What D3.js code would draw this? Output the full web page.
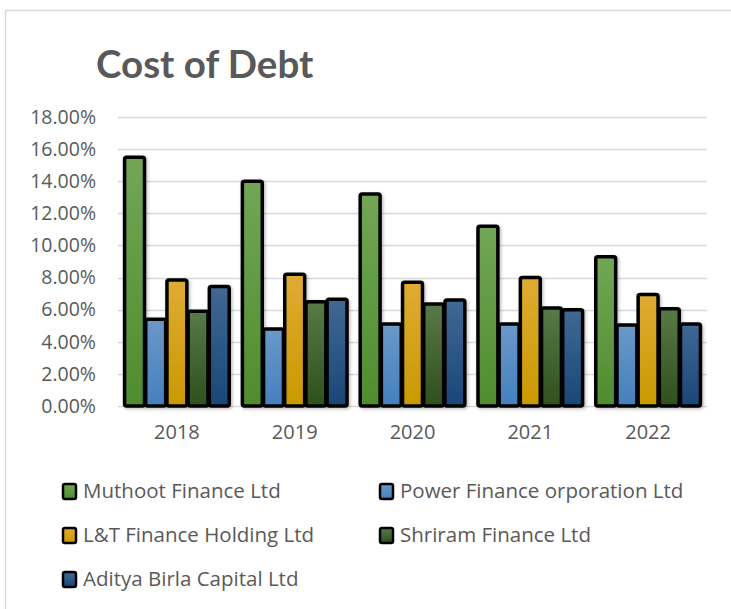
<!DOCTYPE html>
<html>
<head>
<meta charset="utf-8">
<script src="https://cdn.jsdelivr.net/npm/d3@7"></script>
<style>
  body { margin: 0; background: #fff; }
  svg { display: block; }
  text { font-family: "Open Sans", "Noto Sans", sans-serif; fill: #595959; }
</style>
</head>
<body>
<script>
// chart data
var years = ["2018", "2019", "2020", "2021", "2022"];
var companies = ["Muthoot Finance Ltd", "Power Finance orporation Ltd", "L&T Finance Holding Ltd",
                 "Shriram Finance Ltd", "Aditya Birla Capital Ltd"];
var muthoot = [15.5, 14.0, 13.2, 11.2, 9.3];
var powerFin = [5.4, 4.8, 5.1, 5.1, 5.05];
var ltFin = [7.85, 8.2, 7.7, 8.0, 6.95];
var shriram = [5.9, 6.5, 6.35, 6.1, 6.05];
var aditya = [7.45, 6.65, 6.6, 6.0, 5.1];
var yTicks = [0, 2, 4, 6, 8, 10, 12, 14, 16, 18];

var series = [muthoot, powerFin, ltFin, shriram, aditya];
// top / bottom gradient colours per series
var colors = [["#72a656", "#4f8c2e"], ["#6a98c8", "#4580bd"], ["#e0ab34", "#c99900"],
              ["#587a48", "#2f4f1c"], ["#416894", "#184777"]];

var width = 731, height = 609;
var svg = d3.select("body").append("svg")
    .attr("width", width)
    .attr("height", height);

var defs = svg.append("defs");
colors.forEach(function(c, i) {
    var g = defs.append("linearGradient")
        .attr("id", "grad" + i)
        .attr("x1", 0).attr("y1", 0).attr("x2", 0).attr("y2", 1);
    g.append("stop").attr("offset", "0%").attr("stop-color", c[0]);
    g.append("stop").attr("offset", "100%").attr("stop-color", c[1]);
});
var shadow = defs.append("filter").attr("id", "shadow")
    .attr("x", "-20%").attr("y", "-10%").attr("width", "150%").attr("height", "130%");
shadow.append("feDropShadow")
    .attr("dx", 1.5).attr("dy", 1.5).attr("stdDeviation", 1.5)
    .attr("flood-color", "#000").attr("flood-opacity", 0.25);

// chart area border (top and left visible)
svg.append("path")
    .attr("d", "M5.5,609 V10.5 H731")
    .attr("fill", "none")
    .attr("stroke", "#d9d9d9")
    .attr("stroke-width", 1.5);

// title
svg.append("text")
    .attr("x", 96)
    .attr("y", 78)
    .style("font-family", "Lato, 'Open Sans', sans-serif")
    .style("font-weight", "bold")
    .style("font-size", "38.5px")
    .text("Cost of Debt");

var x0 = d3.scaleBand()
    .domain(years)
    .range([118, 707])
    .paddingInner(0.09)
    .paddingOuter(0.045);

var x1 = d3.scaleBand()
    .domain(d3.range(series.length))
    .range([0, x0.bandwidth()])
    .padding(0.06);

var y = d3.scaleLinear()
    .domain([0, 18])
    .range([406, 117]);

// gridlines
svg.append("g")
    .selectAll("line")
    .data(yTicks)
    .enter()
    .append("line")
    .attr("x1", 118).attr("x2", 707)
    .attr("y1", function(d) { return Math.round(y(d)) + 0.5; })
    .attr("y2", function(d) { return Math.round(y(d)) + 0.5; })
    .attr("stroke", "#d9d9d9")
    .attr("stroke-width", 1.5);

// y axis labels
var yAxis = svg.append("g")
    .attr("transform", "translate(96,0)")
    .call(d3.axisLeft(y).tickValues(yTicks).tickSize(0).tickPadding(0)
        .tickFormat(function(d) { return d3.format(".2f")(d) + "%"; }));
yAxis.select(".domain").remove();
yAxis.selectAll("text")
    .style("font-size", "19.5px")
    .style("fill", "#595959")
    .style("font-family", "'Open Sans', sans-serif");

// x axis labels
var xAxis = svg.append("g")
    .attr("transform", "translate(0,425)")
    .call(d3.axisBottom(x0).tickSize(0).tickPadding(0));
xAxis.select(".domain").remove();
xAxis.selectAll("text")
    .style("font-size", "20px")
    .style("fill", "#595959")
    .style("font-family", "'Open Sans', sans-serif");

// bars
var groups = svg.append("g")
    .selectAll("g")
    .data(years)
    .enter()
    .append("g")
    .attr("transform", function(d) { return "translate(" + x0(d) + ",0)"; });

groups.selectAll("rect")
    .data(function(d, yi) {
        return series.map(function(s, si) { return { si: si, v: s[yi] }; });
    })
    .enter()
    .append("rect")
    .attr("x", function(d) { return x1(d.si); })
    .attr("y", function(d) { return y(d.v); })
    .attr("width", x1.bandwidth())
    .attr("height", function(d) { return y(0) - y(d.v); })
    .attr("rx", 2)
    .attr("fill", function(d) { return "url(#grad" + d.si + ")"; })
    .attr("stroke", "#000")
    .attr("stroke-width", 3.5)
    .attr("filter", "url(#shadow)");

// legend
var legendPos = [[63, 491], [380, 491], [63, 535], [380, 535], [63, 579]];
var legend = svg.append("g")
    .selectAll("g")
    .data(companies)
    .enter()
    .append("g")
    .attr("transform", function(d, i) { return "translate(" + legendPos[i][0] + "," + legendPos[i][1] + ")"; });

legend.append("rect")
    .attr("x", 0).attr("y", -7)
    .attr("width", 13).attr("height", 15)
    .attr("rx", 2)
    .attr("fill", function(d, i) { return "url(#grad" + i + ")"; })
    .attr("stroke", "#000")
    .attr("stroke-width", 2.5);

legend.append("text")
    .attr("x", 20)
    .attr("y", 0)
    .attr("dy", "0.35em")
    .style("font-size", "20.5px")
    .text(function(d) { return d; });
</script>
</body>
</html>
